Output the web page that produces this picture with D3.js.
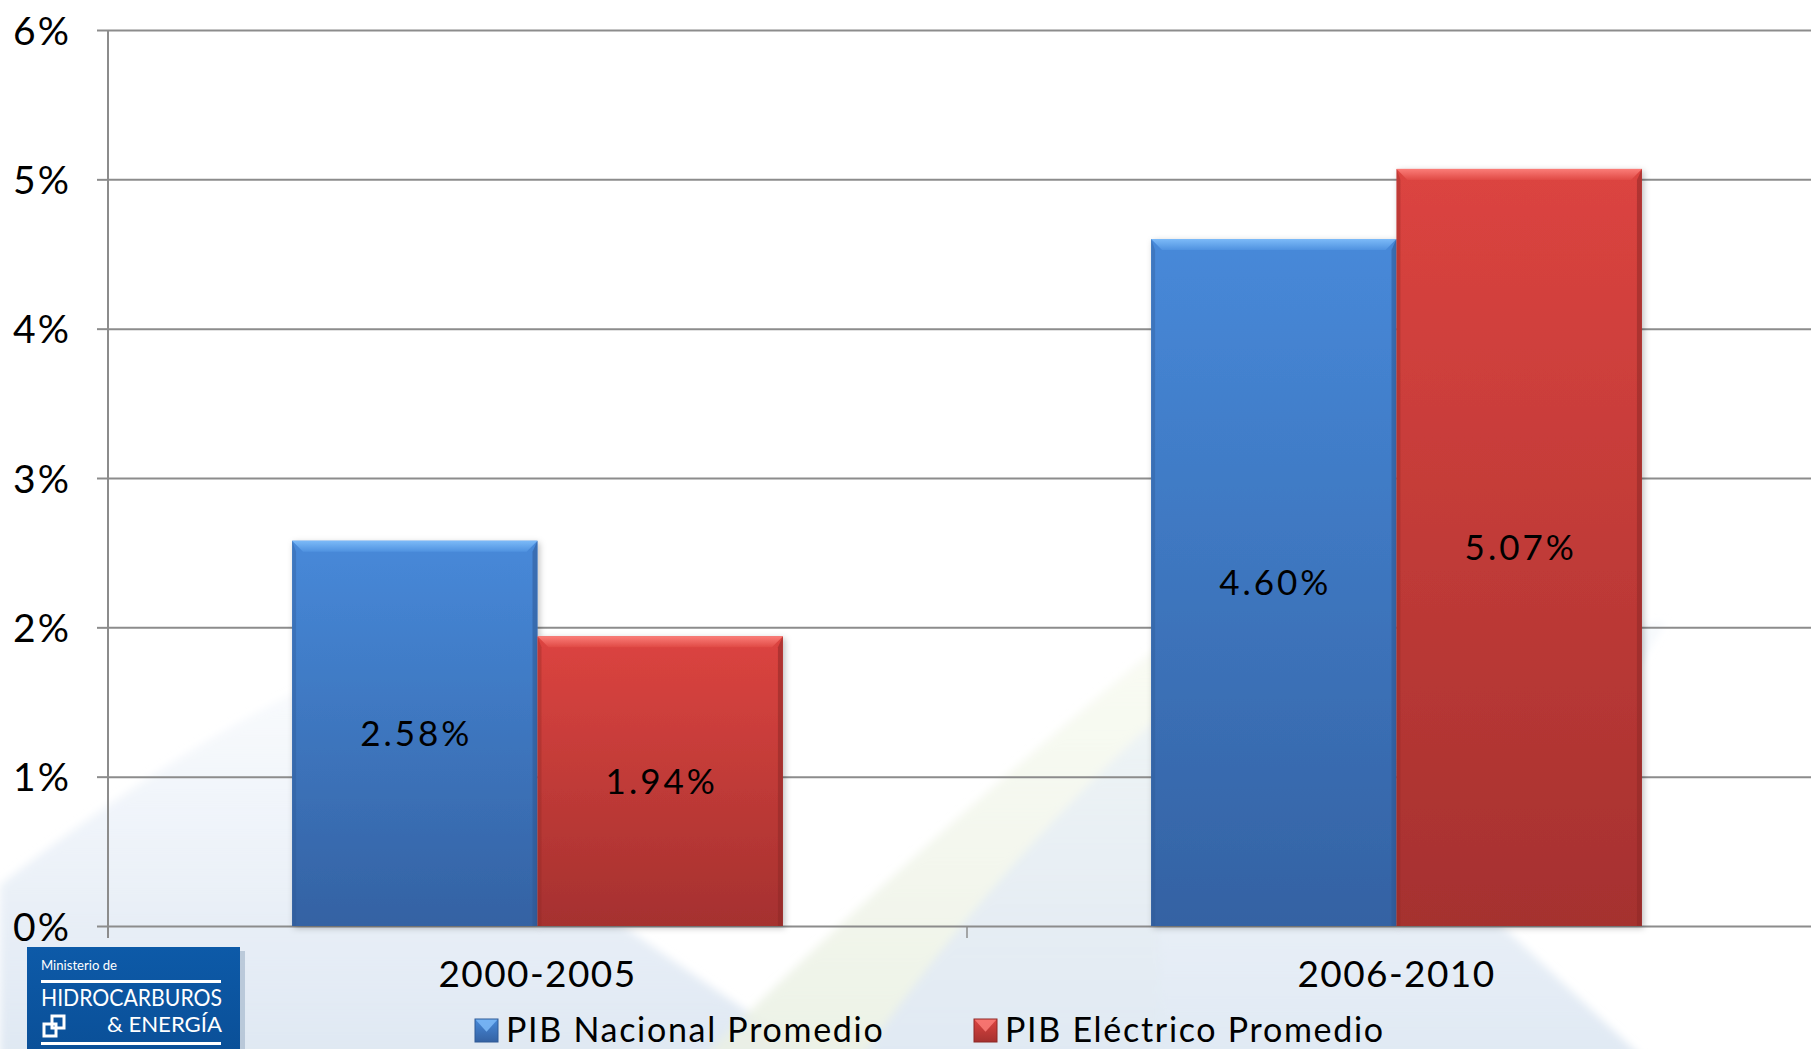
<!DOCTYPE html>
<html>
<head>
<meta charset="utf-8">
<script src="https://cdn.jsdelivr.net/npm/d3@7"></script>
<style>
html,body{margin:0;padding:0;background:#fff;overflow:hidden;}
svg{display:block;}
text{font-family:Lato,"Noto Sans",sans-serif;fill:#000;}
</style>
</head>
<body>
<svg id="chart" width="1811" height="1049"></svg>
<script>
// ---- data ----
const categories = ["2000-2005", "2006-2010"];
const seriesNames = ["PIB Nacional Promedio", "PIB Eléctrico Promedio"];
const nacional = [2.58, 4.60];
const electrico = [1.94, 5.07];
const valueLabels = [["2.58%", "4.60%"], ["1.94%", "5.07%"]];
const yTicks = [0, 1, 2, 3, 4, 5, 6];
const yTickLabels = ["0%", "1%", "2%", "3%", "4%", "5%", "6%"];

const W = 1811, H = 1049;
const svg = d3.select("#chart");
const defs = svg.append("defs");

// ---- background swooshes ----
function vGrad(id, stops, x1="0", y1="0", x2="0", y2="1") {
  const g = defs.append("linearGradient").attr("id", id)
    .attr("x1", x1).attr("y1", y1).attr("x2", x2).attr("y2", y2);
  stops.forEach(s => g.append("stop").attr("offset", s[0]).attr("stop-color", s[1]).attr("stop-opacity", s[2] === undefined ? 1 : s[2]));
  return g;
}
vGrad("bgA", [[0, "#e8eff8", 0.3], [0.6, "#e3ebf5", 0.8], [1, "#dfe8f2", 1]]);
vGrad("bgB", [[0, "#f3f7e8", 0.5], [1, "#eaf0e4", 0.9]]);
vGrad("bgC", [[0, "#eaf1f9", 0.45], [1, "#e0e9f3", 1]]);
const blur = defs.append("filter").attr("id", "soft").attr("x", "-5%").attr("y", "-5%").attr("width", "110%").attr("height", "110%");
blur.append("feGaussianBlur").attr("stdDeviation", 4);
const bg = svg.append("g").attr("filter", "url(#soft)");
bg.append("path").attr("d", "M0,885 Q160,760 300,690 Q520,860 820,1060 L0,1060 Z").attr("fill", "url(#bgA)");
bg.append("path").attr("d", "M700,1060 Q900,860 1160,645 L1160,1060 Z").attr("fill", "url(#bgB)");
bg.append("path").attr("d", "M860,1060 Q1000,860 1160,716 Q1400,660 1665,622 Q1560,800 1500,924 L1645,1060 Z").attr("fill", "url(#bgC)");

// ---- scales ----
const plotTop = 30, plotBottom = 926, plotLeft = 108, plotRight = 1826;
const y = d3.scaleLinear().domain([0, 6]).range([plotBottom, plotTop]);
const x0 = d3.scaleBand().domain(categories).range([plotLeft, plotRight]).padding(0);
const x1 = d3.scaleBand().domain(seriesNames).range([0, x0.bandwidth()]).paddingInner(0).paddingOuter(0.75);

// ---- gridlines ----
const grid = svg.append("g").attr("transform", `translate(${plotLeft},0)`)
  .call(d3.axisLeft(y).tickValues(yTicks).tickSize(-(W - plotLeft)).tickSizeOuter(0).tickFormat(""));
grid.select(".domain").remove();
grid.selectAll("line").attr("stroke", "#8c8c8c").attr("stroke-width", 2);

// ---- y axis ----
const yAxis = svg.append("g").attr("transform", `translate(${plotLeft},0)`)
  .call(d3.axisLeft(y).tickValues(yTicks).tickSize(11).tickSizeOuter(0).tickPadding(26)
    .tickFormat((d, i) => yTickLabels[i]));
yAxis.select(".domain").attr("stroke", "#8c8c8c").attr("stroke-width", 2)
  .attr("d", `M0,${plotTop}V${plotBottom + 12}`);
yAxis.selectAll("line").attr("stroke", "#8c8c8c").attr("stroke-width", 2);
yAxis.selectAll("text").style("font-size", "39px").style("letter-spacing", "2px")
  .style("font-family", "Lato, sans-serif").attr("fill", "#000").attr("dy", "0.36em");

// ---- x axis ----
const xAxis = svg.append("g").attr("transform", `translate(0,${plotBottom})`)
  .call(d3.axisBottom(x0).tickSize(0).tickPadding(35));
xAxis.select(".domain").remove();
xAxis.selectAll("text").style("font-size", "37px").style("letter-spacing", "1.4px")
  .style("font-family", "Lato, sans-serif").attr("fill", "#000");
// category boundary ticks
svg.append("g").selectAll("line").data(categories.slice(1)).join("line")
  .attr("x1", d => x0(d)).attr("x2", d => x0(d))
  .attr("y1", plotBottom).attr("y2", plotBottom + 12)
  .attr("stroke", "#8c8c8c").attr("stroke-width", 1.5);

// ---- bar gradients ----
const palettes = [
  {main: "bluMain", bevel: "bluBevel", top: "#4789d9", bot: "#3462a3", bevTop: "#7cbaf8", bevBot: "#4f92e0", edge: "#2f5a96"},
  {main: "redMain", bevel: "redBevel", top: "#dc4440", bot: "#a5312f", bevTop: "#fb7d78", bevBot: "#e04a45", edge: "#8e2826"}
];
palettes.forEach(p => {
  vGrad(p.main, [[0, p.top], [1, p.bot]]);
  vGrad(p.bevel, [[0, p.bevTop], [1, p.bevBot]]);
});
const shadow = defs.append("filter").attr("id", "shadow").attr("x", "-10%").attr("y", "-10%").attr("width", "130%").attr("height", "130%");
shadow.append("feDropShadow").attr("dx", 2).attr("dy", 2).attr("stdDeviation", 3).attr("flood-color", "#000").attr("flood-opacity", 0.25);

const seriesData = [nacional, electrico];
const barsG = svg.append("g");
const bevel = 11;
seriesData.forEach((vals, si) => {
  const p = palettes[si];
  vals.forEach((v, ci) => {
    const bx = x0(categories[ci]) + x1(seriesNames[si]);
    const bw = x1.bandwidth();
    const by = y(v);
    const bh = y(0) - y(v);
    const g = barsG.append("g");
    g.append("rect").attr("x", bx).attr("y", by).attr("width", bw).attr("height", bh)
      .attr("fill", `url(#${p.main})`).attr("filter", "url(#shadow)");
    g.append("path").attr("d", `M${bx},${by}L${bx + bw},${by}L${bx + bw - bevel},${by + bevel}L${bx + bevel},${by + bevel}Z`)
      .attr("fill", `url(#${p.bevel})`);
    g.append("path").attr("d", `M${bx},${by}L${bx + 4},${by + bevel}L${bx + 4},${by + bh}L${bx},${by + bh}Z`)
      .attr("fill", p.edge).attr("opacity", 0.35);
    g.append("path").attr("d", `M${bx + bw},${by}L${bx + bw - 5},${by + bevel}L${bx + bw - 5},${by + bh}L${bx + bw},${by + bh}Z`)
      .attr("fill", p.edge).attr("opacity", 0.55);
    g.append("text").attr("x", bx + bw / 2 + 1.5).attr("y", by + bh / 2)
      .attr("dy", "0.36em").attr("text-anchor", "middle")
      .style("font-size", "35px").style("letter-spacing", "3px")
      .text(valueLabels[si][ci]);
  });
});

// ---- legend ----
const legendX = [475, 974];
const legend = svg.append("g");
seriesNames.forEach((name, i) => {
  const p = palettes[i];
  const lx = legendX[i], ly = 1019, s = 23;
  legend.append("rect").attr("x", lx).attr("y", ly).attr("width", s).attr("height", s).attr("fill", `url(#${p.main})`);
  legend.append("path").attr("d", `M${lx},${ly}L${lx + s},${ly}L${lx + s / 2},${ly + s * 0.55}Z`).attr("fill", p.bevTop).attr("opacity", 0.85);
  legend.append("rect").attr("x", lx).attr("y", ly).attr("width", s).attr("height", s).attr("fill", "none").attr("stroke", p.edge).attr("stroke-width", 1);
  legend.append("text").attr("x", lx + 31).attr("y", 1042)
    .style("font-size", "34px").style("letter-spacing", "1.7px").text(name);
});

// ---- logo ----
const logo = svg.append("g");
vGrad("logoG", [[0, "#0d5aa8"], [1, "#0a4f97"]]);
logo.append("rect").attr("x", 31).attr("y", 951).attr("width", 214).attr("height", 110).attr("fill", "#9fb3c8").attr("opacity", 0.6);
logo.append("rect").attr("x", 27).attr("y", 947).attr("width", 213).attr("height", 110).attr("fill", "url(#logoG)");
logo.append("text").attr("x", 41).attr("y", 970).style("fill", "#fff")
  .style("font-size", "14px").style("font-family", "Lato, sans-serif").attr("textLength", 76).attr("lengthAdjust", "spacingAndGlyphs").text("Ministerio de");
logo.append("rect").attr("x", 41).attr("y", 980).attr("width", 180).attr("height", 3).attr("fill", "#fff");
logo.append("text").attr("x", 41).attr("y", 1006).style("fill", "#fff")
  .style("font-size", "23px").style("font-family", "Lato, sans-serif").attr("textLength", 181).attr("lengthAdjust", "spacingAndGlyphs").text("HIDROCARBUROS");
logo.append("text").attr("x", 107).attr("y", 1032).style("fill", "#fff")
  .style("font-size", "21px").style("font-family", "Lato, sans-serif").attr("textLength", 115).attr("lengthAdjust", "spacingAndGlyphs").text("& ENERGÍA");
logo.append("rect").attr("x", 44).attr("y", 1024).attr("width", 12).attr("height", 12).attr("fill", "none").attr("stroke", "#fff").attr("stroke-width", 3);
logo.append("rect").attr("x", 52).attr("y", 1016).attr("width", 12).attr("height", 12).attr("fill", "none").attr("stroke", "#fff").attr("stroke-width", 3);
logo.append("rect").attr("x", 41).attr("y", 1042).attr("width", 180).attr("height", 3).attr("fill", "#fff");
</script>
</body>
</html>
